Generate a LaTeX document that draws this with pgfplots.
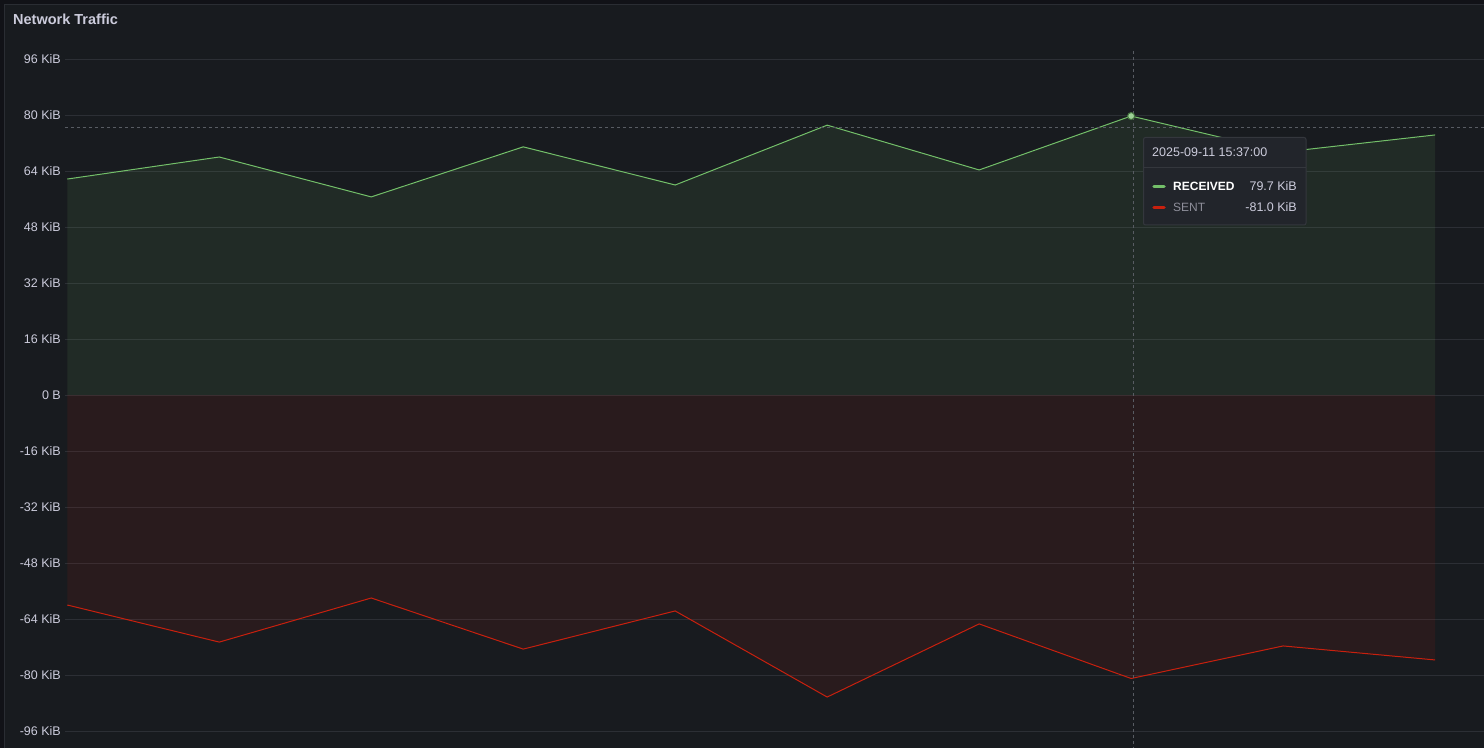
\documentclass[border=0pt]{standalone}
\usepackage{pgfplots}
\pgfplotsset{compat=1.18}
\usepackage{fontspec}
\setmainfont{Liberation Sans}
\definecolor{outerbg}{HTML}{111217}
\definecolor{panelbg}{HTML}{181B1F}
\definecolor{panelborder}{HTML}{2A2D33}
\definecolor{gridc}{HTML}{2C2F35}
\definecolor{txt}{HTML}{CCCCDC}
\definecolor{rxline}{HTML}{73BF69}
\definecolor{txline}{HTML}{C8200E}
\definecolor{tipbg}{HTML}{22252B}
\definecolor{tipborder}{HTML}{34373D}
\definecolor{crossc}{HTML}{585C63}
\definecolor{graytxt}{HTML}{8E8E9A}
\begin{document}
\begin{tikzpicture}
\begin{scope}[x=1pt,y=-1pt,shift={(0pt,748pt)}]
  \fill[outerbg] (0,0) rectangle (1484,748);
  \fill[panelbg] (4.5,4.5) rectangle (1484,748);
  \draw[panelborder,line width=1pt] (4.5,748) -- (4.5,4.5) -- (1484,4.5);
  \node[anchor=base west,inner sep=0pt,text=txt,font=\fontsize{14.5}{17}\selectfont\bfseries] at (13,25) {Network Traffic};
\end{scope}
\begin{axis}[
  at={(65pt,0pt)}, anchor=south west,
  scale only axis, width=1419pt, height=708pt,
  xmin=-0.015, xmax=9.322, ymin=-100.857, ymax=101.43,
  axis line style={draw=none},
  clip=true,
  ytick={-96,-80,-64,-48,-32,-16,0,16,32,48,64,80,96},
  yticklabels={-96 KiB,-80 KiB,-64 KiB,-48 KiB,-32 KiB,-16 KiB,0 B,16 KiB,32 KiB,48 KiB,64 KiB,80 KiB,96 KiB},
  xtick=\empty,
  major tick length=0pt,
  ymajorgrids,
  grid style={gridc, line width=0.9pt},
  yticklabel style={text=txt, font=\fontsize{12.5}{14}\selectfont, anchor=east, inner sep=0pt, xshift=-4pt},
]
\addplot[fill=rxline, fill opacity=0.1, draw=none] coordinates {(0,61.7) (1,68.0) (2,56.6) (3,70.9) (4,60.0) (5,77.1) (6,64.3) (7,79.7) (8,69.4) (9,74.3)} \closedcycle;
\addplot[fill=txline, fill opacity=0.1, draw=none] coordinates {(0,-60.0) (1,-70.6) (2,-58.0) (3,-72.6) (4,-61.7) (5,-86.3) (6,-65.4) (7,-81.0) (8,-71.7) (9,-75.7)} \closedcycle;
\addplot[rxline, line width=1pt] coordinates {(0,61.7) (1,68.0) (2,56.6) (3,70.9) (4,60.0) (5,77.1) (6,64.3) (7,79.7) (8,69.4) (9,74.3)};
\addplot[txline, line width=1pt] coordinates {(0,-60.0) (1,-70.6) (2,-58.0) (3,-72.6) (4,-61.7) (5,-86.3) (6,-65.4) (7,-81.0) (8,-71.7) (9,-75.7)};
\addplot[crossc, dashed, line width=0.7pt] coordinates {(-0.015,76.6) (9.322,76.6)};
\addplot[crossc, dashed, line width=0.7pt] coordinates {(7.013,98.3) (7.013,-100.857)};
\addplot[only marks, mark=*, mark size=3.5pt, mark options={fill=rxline!70!white, draw=rxline!60!black, line width=1pt}] coordinates {(7,79.7)};
\end{axis}
\begin{scope}[x=1pt,y=-1pt,shift={(0pt,748pt)}]
  \draw[fill=tipbg, draw=tipborder, line width=1pt, rounded corners=2pt] (1143.5,137.5) rectangle (1306,225);
  \draw[tipborder, line width=1pt] (1143.5,168) -- (1306,168);
  \node[anchor=base west, inner sep=0pt, text=txt, font=\fontsize{12.5}{14}\selectfont] at (1152,157) {2025-09-11 15:37:00};
  \draw[rxline, line width=3.5pt, line cap=round] (1154,186.5) -- (1164,186.5);
  \draw[txline, line width=3.5pt, line cap=round] (1154,207.5) -- (1164,207.5);
  \node[anchor=base west, inner sep=0pt, text=white, font=\fontsize{12}{14}\selectfont\bfseries] at (1173,190.5) {RECEIVED};
  \node[anchor=base west, inner sep=0pt, text=graytxt, font=\fontsize{12}{14}\selectfont] at (1173,211.5) {SENT};
  \node[anchor=base east, inner sep=0pt, text=txt, font=\fontsize{12.5}{14}\selectfont] at (1297,190.5) {79.7 KiB};
  \node[anchor=base east, inner sep=0pt, text=txt, font=\fontsize{12.5}{14}\selectfont] at (1297,211.5) {-81.0 KiB};
\end{scope}
\pgfresetboundingbox
\useasboundingbox (0pt,0pt) rectangle (1484pt,748pt);
\end{tikzpicture}
\end{document}
